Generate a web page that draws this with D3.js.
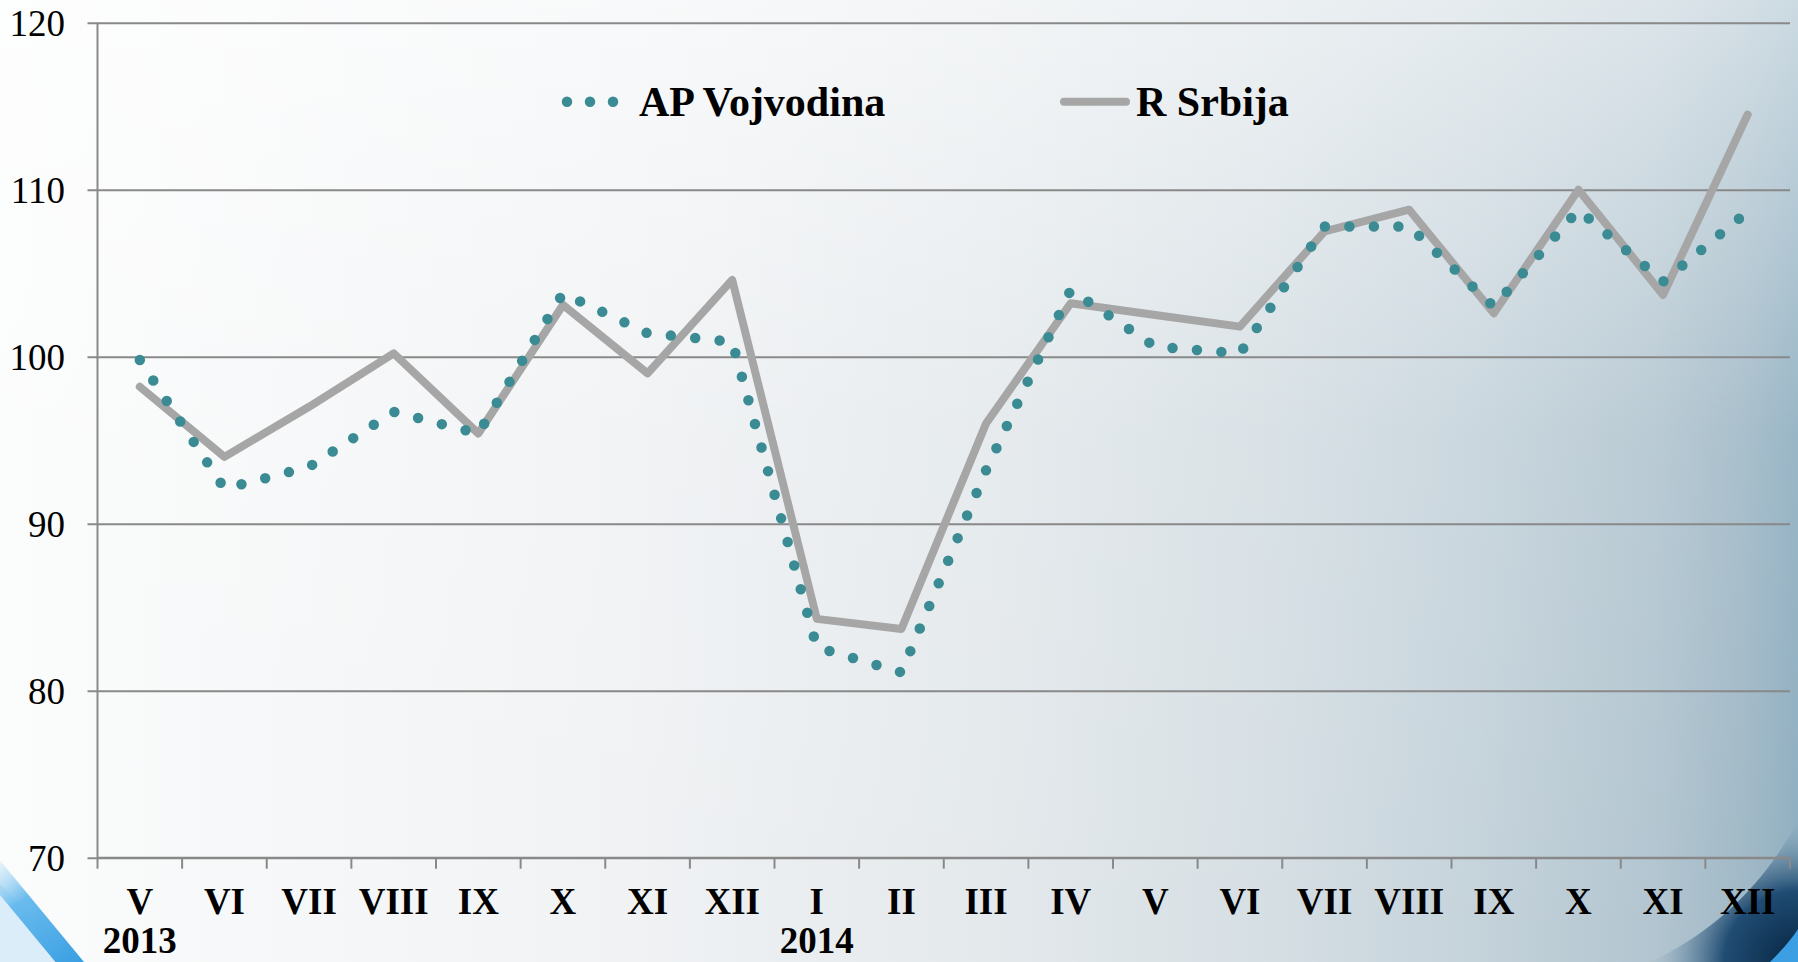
<!DOCTYPE html>
<html>
<head>
<meta charset="utf-8">
<script src="https://cdn.jsdelivr.net/npm/d3@7"></script>
<style>
  html, body { margin: 0; padding: 0; overflow: hidden; background: #fff; }
  svg { display: block; }
  text { font-family: "Liberation Serif", "Times New Roman", Times, serif; }
</style>
</head>
<body>
<svg id="chart" width="1798" height="962"></svg>
<script>
// ---------- data ----------
const months = ["V","VI","VII","VIII","IX","X","XI","XII","I","II","III","IV","V","VI","VII","VIII","IX","X","XI","XII"];
const years  = ["2013","","","","","","","","2014","","","","","","","","","","",""];
const vojvodina = [99.8, 92.1, 93.4, 96.7, 95.4, 103.8, 101.4, 100.9, 82.6, 81.1, 93.2, 104.0, 100.6, 100.2, 107.8, 107.8, 103.0, 108.8, 104.5, 108.7];
const srbija    = [98.2, 94.0, 97.0, 100.2, 95.4, 103.1, 99.0, 104.6, 84.3, 83.7, 96.0, 103.2, 102.5, 101.8, 107.5, 108.8, 102.6, 110.0, 103.7, 114.5];
const yTicks = [70, 80, 90, 100, 110, 120];
const seriesNames = ["AP Vojvodina", "R Srbija"];

// ---------- layout ----------
const W = 1798, H = 962;
const pL = 97.5, pR = 1790, pT = 22.7, pB = 857.7;
const SERIF = "Liberation Serif, Times New Roman, Times, serif";
const teal = "#3a8b93", grey = "#a6a6a6", axisCol = "#898989";

const svg = d3.select("#chart");
const defs = svg.append("defs");

// background gradients
const bg = defs.append("linearGradient").attr("id","bg")
  .attr("x1","0").attr("y1","0").attr("x2","1").attr("y2","0");
[[0,"#fbfcfc"],[0.35,"#f0f2f4"],[0.55,"#e4e9ec"],[0.7,"#d6dfe4"],[0.82,"#c5d3db"],[0.92,"#b2c5d0"],[0.97,"#a0b8c6"],[1,"#8eaec0"]]
  .forEach(([o,c]) => bg.append("stop").attr("offset",o).attr("stop-color",c));
const bgTop = defs.append("linearGradient").attr("id","bgTop")
  .attr("x1","0").attr("y1","0").attr("x2","0").attr("y2","1");
bgTop.append("stop").attr("offset",0).attr("stop-color","#ffffff").attr("stop-opacity",0.55);
bgTop.append("stop").attr("offset",0.45).attr("stop-color","#ffffff").attr("stop-opacity",0.1);
bgTop.append("stop").attr("offset",1).attr("stop-color","#ffffff").attr("stop-opacity",0);
const dark = defs.append("radialGradient").attr("id","dark")
  .attr("cx","1").attr("cy","1").attr("r","1");
dark.append("stop").attr("offset",0).attr("stop-color","#06243f").attr("stop-opacity",1);
dark.append("stop").attr("offset",0.5).attr("stop-color","#12406a").attr("stop-opacity",0.9);
dark.append("stop").attr("offset",1).attr("stop-color","#7e9fb3").attr("stop-opacity",0);
const blueS = defs.append("linearGradient").attr("id","blueS")
  .attr("gradientUnits","userSpaceOnUse")
  .attr("x1",0).attr("y1",860).attr("x2",80).attr("y2",962);
blueS.append("stop").attr("offset",0).attr("stop-color","#9ed3f3").attr("stop-opacity",0.2);
blueS.append("stop").attr("offset",0.35).attr("stop-color","#5bb5ec").attr("stop-opacity",0.9);
blueS.append("stop").attr("offset",1).attr("stop-color","#3a9fe2").attr("stop-opacity",1);

svg.append("rect").attr("width",W).attr("height",H).attr("fill","url(#bg)");
svg.append("rect").attr("width",W).attr("height",H).attr("fill","url(#bgTop)");
// bottom-right dark swoosh
svg.append("path")
  .attr("d","M1650,962 C1710,935 1765,885 1798,820 L1798,962 Z")
  .attr("fill","url(#dark)");
svg.append("path")
  .attr("d","M1770,962 C1782,950 1791,940 1798,929 L1798,962 Z")
  .attr("fill","#3d9fe3");
// bottom-left light blue streak
svg.append("path")
  .attr("d","M0,884 L78,962 L0,962 Z")
  .attr("fill","#d4eaf8").attr("opacity",0.85);
svg.append("line")
  .attr("x1",-8).attr("y1",868).attr("x2",78).attr("y2",972)
  .attr("stroke","url(#blueS)").attr("stroke-width",22);

// ---------- scales ----------
const x = d3.scaleBand().domain(d3.range(months.length)).range([pL, pR]).padding(0);
const cx = i => x(i) + x.bandwidth() / 2;
const y = d3.scaleLinear().domain([70, 120]).range([pB, pT]);

// ---------- y axis with gridlines ----------
const yAxis = d3.axisLeft(y).tickValues(yTicks)
  .tickSize(pR - 87.5).tickPadding(87.5 - 65);
const gy = svg.append("g").attr("transform", `translate(${pR},0)`).call(yAxis)
  .attr("font-family", null).attr("font-size", null);
gy.select(".domain").remove();
gy.selectAll(".tick line").attr("stroke", axisCol).attr("stroke-width", 2);
gy.selectAll(".tick text")
  .style("font-family", SERIF).style("font-size", "37px").attr("fill", "#000")
  .attr("dy", "0.34em");

// y axis line
svg.append("line").attr("x1", pL).attr("x2", pL).attr("y1", pT).attr("y2", pB)
  .attr("stroke", axisCol).attr("stroke-width", 2);

// ---------- x axis ----------
const xAxis = d3.axisBottom(x).tickSize(0).tickFormat(i => months[i]);
const gx = svg.append("g").attr("transform", `translate(0,${pB})`).call(xAxis)
  .attr("font-family", null).attr("font-size", null);
gx.select(".domain").attr("stroke", axisCol).attr("stroke-width", 2).attr("d", `M${pL},0H${pR}`);
gx.selectAll(".tick text")
  .style("font-family", SERIF).style("font-size", "37px").style("font-weight", "bold")
  .attr("fill", "#000").attr("y", 914 - pB).attr("dy", 0);
gx.selectAll(".tick").append("text")
  .text(i => years[i])
  .style("font-family", SERIF).style("font-size", "37px").style("font-weight", "bold")
  .attr("fill", "#000").attr("text-anchor", "middle").attr("y", 953.5 - pB);
// category boundary tick marks
svg.append("g").selectAll("line")
  .data(d3.range(months.length + 1))
  .join("line")
  .attr("x1", i => pL + i * x.step()).attr("x2", i => pL + i * x.step())
  .attr("y1", pB).attr("y2", pB + 11)
  .attr("stroke", axisCol).attr("stroke-width", 2);

// ---------- lines ----------
const line = d3.line().x((d, i) => cx(i)).y(d => y(d));
svg.append("path").datum(srbija).attr("d", line)
  .attr("fill", "none").attr("stroke", grey).attr("stroke-width", 8)
  .attr("stroke-linejoin", "round").attr("stroke-linecap", "round");
svg.append("path").datum(vojvodina).attr("d", line)
  .attr("fill", "none").attr("stroke", teal).attr("stroke-width", 10.5)
  .attr("stroke-dasharray", "0 24.5").attr("stroke-linecap", "round")
  .attr("stroke-linejoin", "round");

// ---------- legend ----------
const leg = svg.append("g");
leg.append("line").attr("x1", 567).attr("x2", 620).attr("y1", 101.7).attr("y2", 101.7)
  .attr("stroke", teal).attr("stroke-width", 10.5)
  .attr("stroke-dasharray", "0 23").attr("stroke-linecap", "round");
leg.append("text").attr("x", 639).attr("y", 115.7).text(seriesNames[0])
  .style("font-family", SERIF).style("font-size", "42px").style("font-weight", "bold").attr("fill", "#000");
leg.append("line").attr("x1", 1064).attr("x2", 1126).attr("y1", 101.7).attr("y2", 101.7)
  .attr("stroke", grey).attr("stroke-width", 8).attr("stroke-linecap", "round");
leg.append("text").attr("x", 1136).attr("y", 115.7).text(seriesNames[1])
  .style("font-family", SERIF).style("font-size", "42px").style("font-weight", "bold").attr("fill", "#000");
</script>
</body>
</html>
